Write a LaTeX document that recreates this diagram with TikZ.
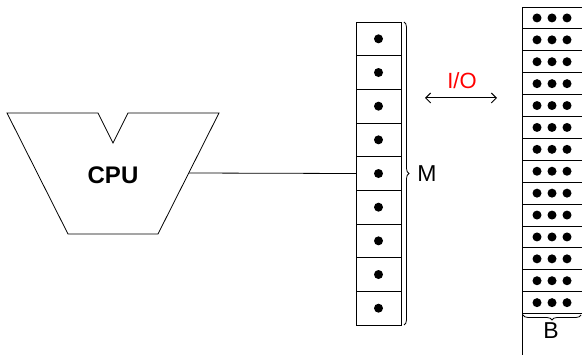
\documentclass[tikz,border=0pt]{standalone}
\usepackage{fontspec}
\setmainfont{Liberation Sans}
\usetikzlibrary{decorations.pathreplacing,arrows.meta}
\begin{document}
\begin{tikzpicture}[x=1pt,y=-1pt,line width=0.8pt,
  memcell/.style={draw,minimum width=45pt,minimum height=33.67pt,inner sep=0pt,outer sep=0pt},
  bcell/.style={draw,minimum width=60pt,minimum height=21.9pt,inner sep=0pt,outer sep=0pt},
  dot/.style={fill,circle,minimum size=9pt,inner sep=0pt},
  lbl/.style={font=\fontsize{23}{26}\selectfont,inner sep=0pt}]
\useasboundingbox (0,0) rectangle (582,355);
% CPU
\draw (7,113) -- (98,113) -- (113,143) -- (128,113) -- (219,113) -- (158,234) -- (68,234) -- cycle;
\node[lbl,font=\fontsize{24}{27}\selectfont\bfseries] (cpu) at (113,175) {CPU};
\coordinate (cpuport) at (189,173);
% memory
\foreach \i in {1,...,9}{
  \node[memcell] (m\i) at (378.5,{22+33.67*(\i-0.5)}) {};
  \node[dot] at (m\i.center) {};
}
\draw (cpuport) -- (m5.west);
\draw[decorate,decoration={brace,amplitude=5pt}] (404,22) -- (404,325) node[midway] (mbr) {};
\node[lbl] (M) at (427,174) {M};
% I/O
\node[lbl,text=red,font=\fontsize{22}{25}\selectfont] (io) at (462,81) {I/O};
\coordinate (ioL) at (425,98);
\coordinate (ioR) at (497,98);
\draw[line width=1pt,{Straight Barb[length=5pt,width=10pt]}-{Straight Barb[length=5pt,width=10pt]}] (ioL) -- (ioR);
% B
\foreach \i in {1,...,14}{
  \node[bcell] (b\i) at (552,{7+21.9*(\i-0.5)}) {};
  \foreach \dx in {-15,0,15}{
    \node[dot] at ([xshift=\dx pt]b\i.center) {};
  }
}
\draw (b14.south west) -- (522,355);
\draw[decorate,decoration={brace,amplitude=5pt}] (581,315) -- (523,315);
\node[lbl] (B) at (551,331) {B};
\end{tikzpicture}
\end{document}
